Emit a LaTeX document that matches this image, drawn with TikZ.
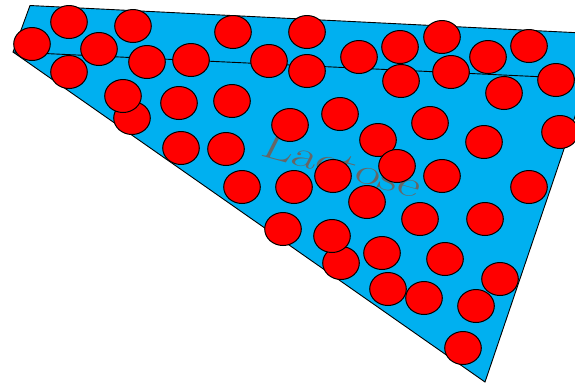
\documentclass[tikz,border=0pt]{standalone}
\usepackage{fontspec}
\definecolor{agua}{HTML}{00B0F0}
\definecolor{grano}{HTML}{FF0000}
\definecolor{rotulo}{HTML}{666666}

\begin{document}
\begin{tikzpicture}[x=1pt, y=-1pt,
  cristal/.style={fill=grano, draw=black, line width=1pt},
]
  \useasboundingbox (0,0) rectangle (575,384);
  \clip (0,0) rectangle (575,384);

  % contorno del recipiente
  \coordinate (supizq) at (30,5.5);
  \coordinate (supder) at (603,34);
  \coordinate (inf) at (485,382);
  \coordinate (izq) at (13,52);
  \coordinate (borde) at (588,79);
  \filldraw[fill=agua, draw=black, line width=0.9pt] (supizq) -- (supder) -- (inf) -- (izq) -- cycle;
  \draw[line width=0.9pt] (izq) -- (borde);

  % rotulo detras de los granos
  \node[text=rotulo, font=\fontsize{37}{40}\selectfont, inner sep=0pt, anchor=base west, transform shape,
        rotate=-15.5, xslant=0.2, xscale=1.45] (etiqueta) at (259,155) {Lactose};

  % granos
  \foreach \x/\y in {69/22, 133/26, 233/32, 307/32, 442/37, 400/47, 529/46, 488/57,
                     32/44, 99/49, 147/62, 191/60, 269/61, 359/57, 307/71, 401/81, 451/72, 556/80, 504/93,
                     69/72, 132/118, 123/96, 179/103, 232/101, 290/125, 340/114, 378/140, 430/123, 484/142, 560/132,
                     181/148, 226/149, 397/166, 242/187, 294/187, 333/176, 367/202, 442/176, 529/187, 420/219, 485/219,
                     283/229, 341/263, 332/236, 382/253, 445/259, 388/289, 424/298, 476/306, 500/279, 463/348}
    \draw[cristal] (\x,\y) ellipse [x radius=18.3, y radius=16.5];
\end{tikzpicture}
\end{document}
